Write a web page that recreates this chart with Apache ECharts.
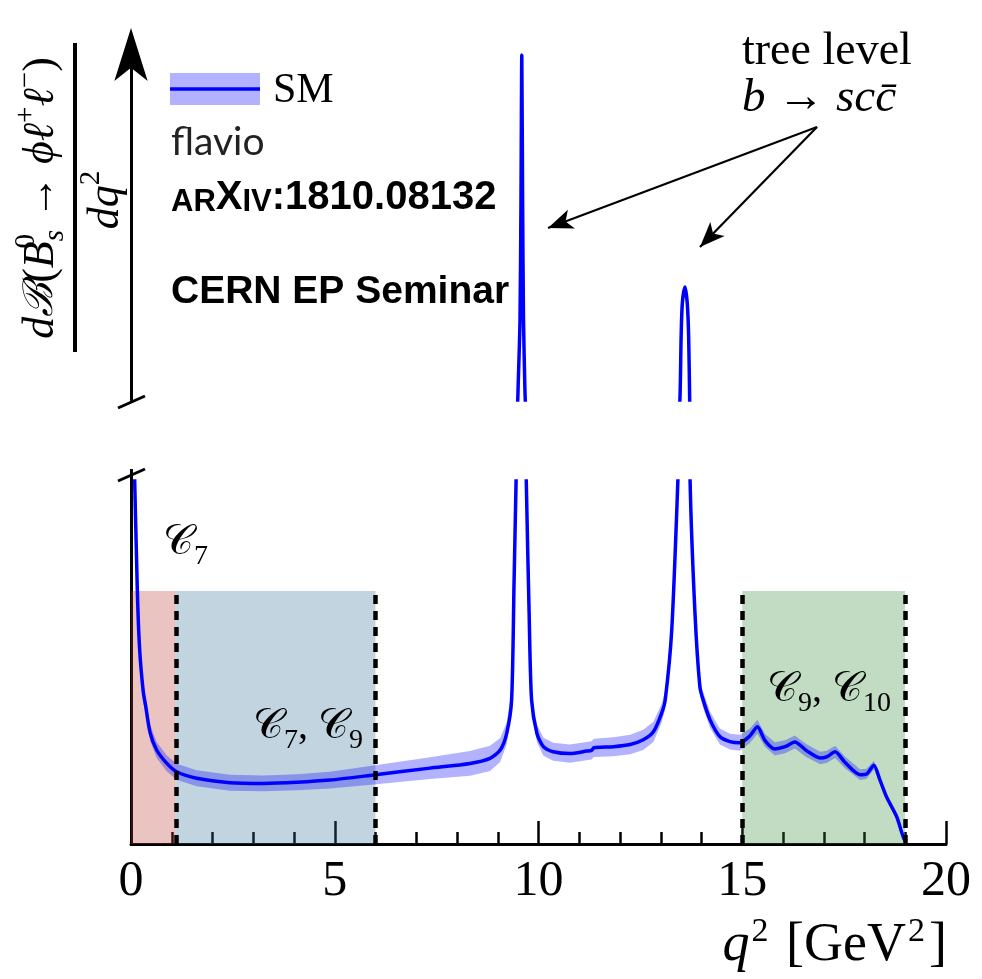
<!DOCTYPE html>
<html>
<head>
<meta charset="utf-8">
<script src="https://cdn.jsdelivr.net/npm/echarts@6/dist/echarts.min.js"></script>
<style>
html, body { margin: 0; padding: 0; background: #fff; }
#main { width: 982px; height: 979px; }
</style>
</head>
<body>
<div id="main"></div>
<script>
// q^2 grid (GeV^2)
var q2 = [0.06, 0.155, 0.21, 0.30, 0.36, 0.47, 0.63, 0.88, 1.12, 1.61, 2.43, 3.25, 4.07, 4.88, 5.95,
    7.34, 8.32, 8.81, 9.06, 9.22, 9.34, 9.40, 9.45,
    9.49, 9.50, 9.546, 9.57, 9.59, 9.61, 9.632, 9.665, 9.675,
    9.70, 9.77, 9.83, 9.96, 10.12, 10.36, 10.77, 11.18, 11.30, 11.36, 11.84, 12.25, 12.57, 12.82,
    13.02, 13.11, 13.27, 13.42,
    13.47, 13.50, 13.53, 13.595, 13.65, 13.685, 13.71,
    13.72, 13.84, 13.96, 14.04, 14.21, 14.45, 14.70, 14.94, 15.19, 15.37, 15.56, 15.80, 16.05,
    16.29, 16.58, 16.91, 17.07, 17.28, 17.52, 17.89, 18.05, 18.23, 18.38, 18.54, 18.79, 18.91, 18.97, 18.99];
// central value (lower panel 0-100, upper panel 120-474, arbitrary units)
var central = [115, 70, 54, 42, 38, 30.6, 25.9, 22.2, 19.9, 18.1, 16.9, 16.7, 17.0, 17.6, 19.0,
    20.9, 22.2, 23.6, 25.9, 30.5, 39.7, 72, 100,
    120, 133, 200, 320, 465, 320, 200, 133, 120,
    100, 63.6, 39.7, 30.5, 26.8, 25.4, 24.9, 25.6, 25.8, 26.5, 26.8, 27.4, 28.7, 30.9,
    36.0, 39.7, 59.0, 100,
    120, 183, 217, 233, 217, 183, 120,
    100, 63.6, 43.3, 39.7, 34.2, 29.6, 28.2, 27.9, 29.8, 32.3, 28.5, 26.2, 26.8,
    28.1, 25.7, 23.7, 24.0, 25.4, 22.5, 19.1, 19.3, 21.7, 17.6, 13.0, 7.5, 3.3, 1.4, 1.1];
// half width of the theory band
var bandHalf = [3, 3, 3, 2.6, 2.4, 2.2, 2.2, 2.2, 2.2, 2.2, 2.2, 2.2, 2.2, 2.3, 2.6,
    3.0, 3.4, 3.5, 3.3, 3, 2.5, 2, 1.5,
    1.5, 1.5, 1.5, 1.5, 1.5, 1.5, 1.5, 1.5, 1.5,
    1.5, 2, 2.2, 2.4, 2.5, 2.5, 2.5, 2.5, 2.5, 2.5, 2.6, 2.7, 2.8, 2.8,
    2.6, 2.5, 2, 1.5,
    1.5, 1.5, 1.5, 1.5, 1.5, 1.5, 1.5,
    1.5, 2, 2.2, 2.2, 2.2, 2.2, 2.2, 2.2, 2, 1.9, 1.8, 1.8, 1.8,
    1.8, 1.8, 1.7, 1.7, 1.7, 1.6, 1.5, 1.4, 1.2, 0.8, 0.5, 0.3, 0.2, 0.1, 0];
var xTicks = [0, 5, 10, 15, 20];
var binRed = [0, 1.1];
var binBlue = [1.1, 6];
var binGreen = [15, 19];
var binTop = 69.7;

var chart = echarts.init(document.getElementById('main'));

var linePts = q2.map(function (q, i) { return [q, central[i]]; });

var serif = '"Liberation Serif", "DejaVu Serif", serif';
var sans = '"Liberation Sans", sans-serif';
var rich = {
    it: { fontFamily: serif, fontStyle: 'italic', fontSize: 44, lineHeight: 58, color: '#000' },
    rm: { fontFamily: serif, fontSize: 44, lineHeight: 58, color: '#000' },
    cal: { fontFamily: '"DejaVu Serif", serif', fontStyle: 'italic', fontSize: 41, lineHeight: 58, color: '#000' },
    sup: { fontFamily: serif, fontSize: 29, lineHeight: 29, verticalAlign: 'top', color: '#000' },
    sup0: { fontFamily: serif, fontSize: 29, lineHeight: 29, verticalAlign: 'top', align: 'left', width: 0, color: '#000' },
    sub: { fontFamily: serif, fontStyle: 'italic', fontSize: 29, lineHeight: 29, verticalAlign: 'bottom', color: '#000' },
    bit: { fontFamily: serif, fontStyle: 'italic', fontSize: 47, lineHeight: 56, color: '#000' },
    brm: { fontFamily: serif, fontSize: 47, lineHeight: 56, color: '#000' },
    xit: { fontFamily: serif, fontStyle: 'italic', fontSize: 54, lineHeight: 62, color: '#000' },
    xrm: { fontFamily: serif, fontSize: 54, lineHeight: 62, color: '#000' },
    xsup: { fontFamily: serif, fontSize: 34, lineHeight: 34, verticalAlign: 'top', padding: [0, 4, 0, 2], color: '#000' },
    wc: { fontFamily: '"DejaVu Sans", sans-serif', fontSize: 42, lineHeight: 56, color: '#000' },
    wsub: { fontFamily: serif, fontSize: 28, lineHeight: 28, verticalAlign: 'bottom', color: '#000' },
    wrm: { fontFamily: serif, fontSize: 40, lineHeight: 56, color: '#000' },
    sc: { fontFamily: sans, fontWeight: 'bold', fontSize: 31, lineHeight: 44, verticalAlign: 'bottom', color: '#000' },
    big: { fontFamily: sans, fontWeight: 'bold', fontSize: 40, lineHeight: 44, verticalAlign: 'bottom', color: '#000' }
};

function txt(x, y, text, opts) {
    opts = opts || {};
    return {
        type: 'text', x: x, y: y, rotation: opts.rot || 0, z: 100,
        style: {
            text: text, rich: rich,
            fill: opts.fill || '#000',
            font: opts.font || ('40px ' + serif),
            align: opts.align || 'left', textAlign: opts.align || 'left',
            verticalAlign: 'middle', textVerticalAlign: 'middle'
        }
    };
}

// theory band drawn through the lower panel scales
function renderBand(params, api) {
    var up = [], lo = [];
    for (var i = 0; i < q2.length; i++) {
        up.push(api.coord([q2[i], central[i] + bandHalf[i]]));
        lo.push(api.coord([q2[i], central[i] - bandHalf[i]]));
    }
    var cs = params.coordSys;
    return {
        type: 'polygon',
        shape: { points: up.concat(lo.reverse()) },
        style: { fill: 'rgba(0,0,255,0.3)' },
        clipPath: { type: 'rect', shape: { x: cs.x, y: cs.y, width: cs.width, height: cs.height } }
    };
}

var option = {
    animation: false,
    backgroundColor: '#fff',
    grid: [
        { left: 131, right: 36, top: 481, bottom: 135 },
        { left: 131, right: 36, top: 46, bottom: 579 }
    ],
    xAxis: [
        {
            gridIndex: 0, type: 'value', min: 0, max: 20, interval: 5,
            axisLine: { lineStyle: { color: '#000', width: 3 } },
            axisTick: { inside: true, length: 23, lineStyle: { color: '#000', width: 2.5 } },
            minorTick: { show: true, splitNumber: 5, length: 12, lineStyle: { color: '#000', width: 2.5 } },
            splitLine: { show: false },
            axisLabel: {
                margin: 13, color: '#000', fontSize: 50, fontFamily: serif,
                formatter: function (v) { return xTicks.indexOf(v) >= 0 ? String(v) : ''; }
            }
        },
        { gridIndex: 1, type: 'value', min: 0, max: 20, show: false }
    ],
    yAxis: [
        {
            gridIndex: 0, type: 'value', min: 0, max: 100,
            axisLine: { show: true, lineStyle: { color: '#000', width: 3 } },
            axisTick: { show: false }, axisLabel: { show: false }, splitLine: { show: false }
        },
        {
            gridIndex: 1, type: 'value', min: 120, max: 474,
            axisLine: {
                show: true, symbol: ['none', 'arrow'], symbolSize: [25, 53], symbolOffset: [0, 18],
                lineStyle: { color: '#000', width: 3 }
            },
            axisTick: { show: false }, axisLabel: { show: false }, splitLine: { show: false }
        }
    ],
    series: [
        {
            type: 'custom', xAxisIndex: 0, yAxisIndex: 0, data: [[0, 0]], renderItem: renderBand,
            silent: true, z: 2
        },
        {
            type: 'line', xAxisIndex: 0, yAxisIndex: 0, data: linePts, symbol: 'none', clip: true,
            smooth: 0.25, lineStyle: { color: '#0000ff', width: 3.5 }, z: 3
        },
        {
            type: 'line', xAxisIndex: 1, yAxisIndex: 1, data: linePts, symbol: 'none', clip: true,
            smooth: 0.25, lineStyle: { color: '#0000ff', width: 3.5 }, z: 3,
            markLine: {
                silent: true, symbol: ['none', 'arrow'], symbolSize: [15, 25],
                lineStyle: { color: '#000', width: 2.2, type: 'solid' },
                label: { show: false },
                data: [
                    [{ x: 817, y: 127 }, { x: 548, y: 228 }],
                    [{ x: 817, y: 127 }, { x: 700, y: 247 }]
                ]
            }
        },
        {
            type: 'line', xAxisIndex: 0, yAxisIndex: 0, data: [], z: 5,
            markArea: {
                silent: true,
                data: [
                    [{ coord: [binRed[0], 0], itemStyle: { color: 'rgba(181,58,45,0.3)' } }, { coord: [binRed[1], binTop] }],
                    [{ coord: [binBlue[0], 0], itemStyle: { color: 'rgba(52,112,148,0.3)' } }, { coord: [binBlue[1], binTop] }],
                    [{ coord: [binGreen[0], 0], itemStyle: { color: 'rgba(52,139,59,0.3)' } }, { coord: [binGreen[1], binTop] }]
                ]
            },
            markLine: {
                silent: true, symbol: 'none', label: { show: false },
                lineStyle: { color: '#000', width: 4.5, type: [9, 7] },
                data: [
                    [{ coord: [binRed[1], 0] }, { coord: [binRed[1], binTop - 1] }],
                    [{ coord: [binBlue[1], 0] }, { coord: [binBlue[1], binTop - 1] }],
                    [{ coord: [binGreen[0], 0] }, { coord: [binGreen[0], binTop - 1] }],
                    [{ coord: [binGreen[1], 0] }, { coord: [binGreen[1], binTop] }]
                ]
            }
        }
    ],
    graphic: [
        // axis break marks
        { type: 'line', shape: { x1: 118, y1: 408, x2: 145, y2: 396 }, style: { stroke: '#000', lineWidth: 3 }, z: 100 },
        { type: 'line', shape: { x1: 118, y1: 481, x2: 145, y2: 469 }, style: { stroke: '#000', lineWidth: 3 }, z: 100 },
        { type: 'line', shape: { x1: 131.5, y1: 469, x2: 131.5, y2: 482 }, style: { stroke: '#000', lineWidth: 3 }, z: 100 },
        // y label fraction
        txt(41, 198, '{it|d}{cal|ℬ}{rm|(}{it|B}{sup0|0}{sub|s}{rm| → }{it|ϕℓ}{sup|+}{it|ℓ}{sup|−}{rm|)}', { rot: Math.PI / 2, align: 'center' }),
        { type: 'line', shape: { x1: 75, y1: 43, x2: 75, y2: 352 }, style: { stroke: '#000', lineWidth: 4 }, z: 100 },
        txt(106, 200, '{it|dq}{sup|2}', { rot: Math.PI / 2, align: 'center' }),
        // legend
        { type: 'rect', shape: { x: 170, y: 73, width: 90, height: 32 }, style: { fill: 'rgba(0,0,255,0.3)' }, z: 100 },
        { type: 'line', shape: { x1: 170, y1: 89, x2: 260, y2: 89 }, style: { stroke: '#0000ff', lineWidth: 3.5 }, z: 101 },
        txt(273, 91, 'SM', { font: '42px ' + serif }),
        txt(171, 142, 'flavio', { font: '39px Lato, "Open Sans", sans-serif', fill: '#222' }),
        txt(171, 196, '{sc|AR}{big|X}{sc|IV}{big|:1810.08132}', {}),
        txt(171, 292, 'CERN EP Seminar', { font: 'bold 39px ' + sans }),
        // tree level note
        txt(742, 52, 'tree level', { font: '46px ' + serif }),
        txt(742, 99, '{bit|b}{brm| → }{bit|sc}{bit|c̄}', {}),
        // Wilson coefficient labels
        txt(163, 543, '{wc|𝒞}{wsub|7}', {}),
        txt(253, 727, '{wc|𝒞}{wsub|7}{wrm|, }{wc|𝒞}{wsub|9}', {}),
        txt(767, 690, '{wc|𝒞}{wsub|9}{wrm|, }{wc|𝒞}{wsub|10}', {}),
        // x axis name
        txt(947, 946, '{xit|q}{xsup|2}{xrm| [GeV}{xsup|2}{xrm|]}', { align: 'right' })
    ]
};
chart.setOption(option);
</script>
</body>
</html>
